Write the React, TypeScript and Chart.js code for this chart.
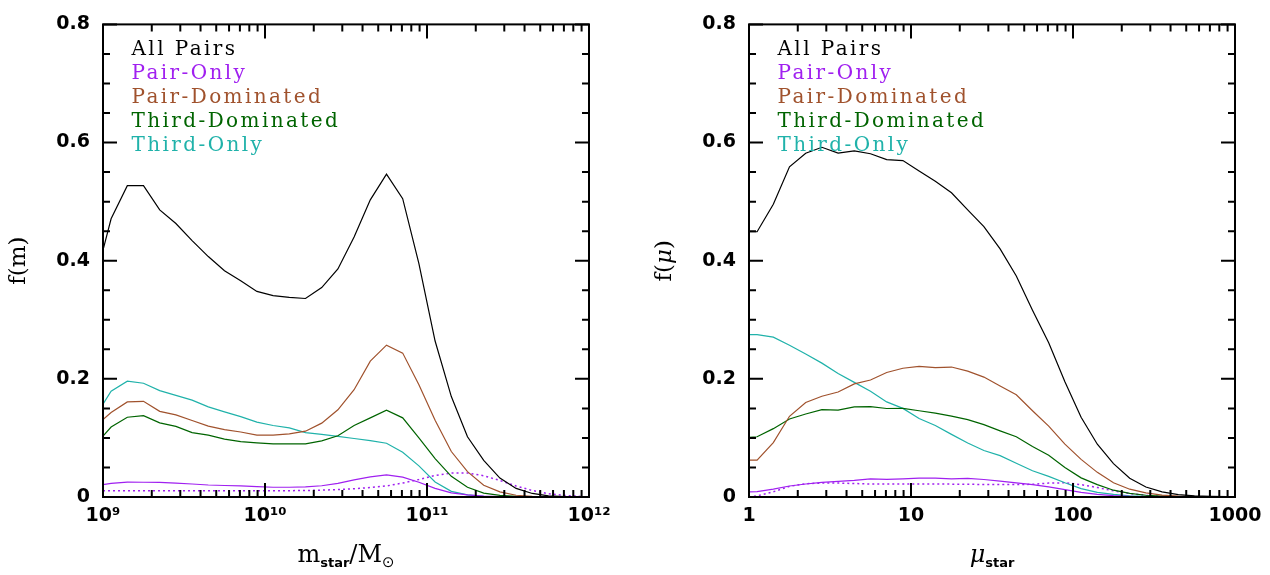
import React, { useEffect, useRef } from 'react';
import { Chart, registerables } from 'chart.js';
Chart.register(...registerables);

// ---------- data: left panel (stellar mass) ----------
const massX = [1e9, 1.122e9, 1.413e9, 1.778e9, 2.239e9, 2.818e9, 3.548e9, 4.467e9, 5.623e9, 7.079e9, 8.913e9,
  1.122e10, 1.413e10, 1.778e10, 2.239e10, 2.818e10, 3.548e10, 4.467e10, 5.623e10, 7.079e10, 8.913e10,
  1.122e11, 1.413e11, 1.778e11, 2.239e11, 2.818e11, 3.548e11, 4.467e11, 5.623e11, 7.079e11, 8.913e11];
const massAllPairs = [0.418, 0.471, 0.527, 0.527, 0.486, 0.463, 0.434, 0.407, 0.383, 0.366, 0.348,
  0.341, 0.338, 0.336, 0.3545, 0.386, 0.44, 0.503, 0.5465, 0.505, 0.395,
  0.264, 0.17, 0.102, 0.062, 0.032, 0.0145, 0.006, 0.002, 0.0005, 0];
const massPairOnly = [0.0209, 0.023, 0.0252, 0.025, 0.0247, 0.0236, 0.022, 0.0203, 0.0195, 0.0187, 0.0175,
  0.0165, 0.0165, 0.017, 0.019, 0.023, 0.029, 0.034, 0.0375, 0.0335, 0.025,
  0.0145, 0.007, 0.0035, 0.0015, 0.0005, 0, 0, 0, 0, 0];
const massPairDom = [0.131, 0.143, 0.161, 0.162, 0.145, 0.139, 0.1295, 0.12, 0.114, 0.11, 0.1048,
  0.1048, 0.107, 0.1114, 0.125, 0.1476, 0.1816, 0.23, 0.257, 0.2436, 0.19,
  0.13, 0.077, 0.043, 0.02, 0.0088, 0.003, 0.001, 0, 0, 0];
const massThirdDom = [0.103, 0.1185, 0.135, 0.1377, 0.1256, 0.1196, 0.109, 0.1048, 0.098, 0.0938, 0.0916,
  0.09, 0.09, 0.09, 0.095, 0.1037, 0.121, 0.134, 0.147, 0.134, 0.1,
  0.065, 0.035, 0.0165, 0.0066, 0.0027, 0.001, 0, 0, 0, 0];
const massThirdOnly = [0.157, 0.179, 0.196, 0.1926, 0.18, 0.172, 0.164, 0.1525, 0.144, 0.136, 0.1267,
  0.121, 0.117, 0.109, 0.106, 0.1026, 0.099, 0.0955, 0.091, 0.0757, 0.0527,
  0.0255, 0.0095, 0.0035, 0.001, 0, 0, 0, 0, 0, 0];
const massPairOnlyDotted = [0.0104, 0.0105, 0.0106, 0.0107, 0.0107, 0.0106, 0.0105, 0.0104, 0.0104, 0.0104, 0.0104,
  0.0105, 0.0107, 0.011, 0.0116, 0.0126, 0.014, 0.016, 0.0187, 0.0236, 0.0296,
  0.0365, 0.0405, 0.0405, 0.036, 0.028, 0.0187, 0.011, 0.0055, 0.0027, 0.001];

// ---------- data: right panel (mu) ----------
const muX = [1, 1.122, 1.413, 1.778, 2.239, 2.818, 3.548, 4.467, 5.623, 7.079, 8.913,
  11.22, 14.13, 17.78, 22.39, 28.18, 35.48, 44.67, 56.23, 70.79, 89.13,
  112.2, 141.3, 177.8, 223.9, 281.8, 354.8, 446.7, 562.3, 707.9, 891.3];
const muAllPairs = [0.449, 0.449, 0.4955, 0.559, 0.582, 0.592, 0.582, 0.586, 0.581, 0.571, 0.5695,
  0.552, 0.5345, 0.515, 0.486, 0.4576, 0.42, 0.374, 0.316, 0.261, 0.195,
  0.135, 0.0894, 0.0565, 0.0318, 0.017, 0.0088, 0.004, 0.002, 0.001, 0.0005];
const muPairOnly = [0.0088, 0.009, 0.0132, 0.0186, 0.022, 0.0247, 0.0263, 0.028, 0.0307, 0.03, 0.0307,
  0.0318, 0.0318, 0.0307, 0.0315, 0.0296, 0.027, 0.024, 0.021, 0.017, 0.0126,
  0.0077, 0.0044, 0.0022, 0.001, 0, 0, 0, 0, 0, 0];
const muPairDom = [0.0625, 0.0625, 0.092, 0.1366, 0.16, 0.1706, 0.1778, 0.1915, 0.198, 0.2107, 0.218,
  0.221, 0.219, 0.22, 0.213, 0.203, 0.188, 0.173, 0.146, 0.12, 0.0894,
  0.0637, 0.0417, 0.0242, 0.0132, 0.007, 0.0033, 0.0015, 0.0005, 0, 0];
const muThirdDom = [0.101, 0.102, 0.1157, 0.132, 0.1405, 0.148, 0.147, 0.1525, 0.153, 0.1498, 0.15,
  0.146, 0.142, 0.137, 0.131, 0.1225, 0.112, 0.102, 0.0856, 0.0708, 0.05,
  0.0324, 0.0209, 0.0115, 0.006, 0.003, 0.0016, 0.0005, 0, 0, 0];
const muThirdOnly = [0.275, 0.275, 0.2705, 0.257, 0.242, 0.2266, 0.209, 0.194, 0.179, 0.161, 0.15,
  0.133, 0.121, 0.106, 0.0915, 0.0788, 0.07, 0.057, 0.0444, 0.035, 0.0242,
  0.0143, 0.0077, 0.0044, 0.002, 0.001, 0, 0, 0, 0, 0];
const muPairOnlyDotted = [0, 0.002, 0.0088, 0.018, 0.0225, 0.0236, 0.0236, 0.0228, 0.022, 0.022, 0.022,
  0.022, 0.022, 0.0218, 0.0215, 0.0212, 0.021, 0.021, 0.0215, 0.0235, 0.024,
  0.021, 0.016, 0.0104, 0.006, 0.0027, 0.001, 0, 0, 0, 0];

// ---------- ticks / labels ----------
const seriesLabels = ['All Pairs', 'Pair-Only', 'Pair-Dominated', 'Third-Dominated', 'Third-Only'];
const seriesColors = ['#000000', '#A020F0', '#A0522D', '#006400', '#20B2AA'];
const yMajorTicks = [0, 0.2, 0.4, 0.6, 0.8];
const yMinorTicks = [0.05, 0.1, 0.15, 0.25, 0.3, 0.35, 0.45, 0.5, 0.55, 0.65, 0.7, 0.75];
const minorMultipliers = [2, 3, 4, 5, 6, 7, 8, 9];
const massDecades = [1e9, 1e10, 1e11, 1e12];
const massDecadeLabels = ['10\u2079', '10\u00B9\u2070', '10\u00B9\u00B9', '10\u00B9\u00B2'];
const muDecades = [1, 10, 100, 1000];
const muDecadeLabels = ['1', '10', '100', '1000'];

type Seg = { t: string; f: string; dy?: number };

function drawSegs(ctx: CanvasRenderingContext2D, segs: Seg[], cx: number, cy: number) {
  let total = 0;
  const widths = segs.map((s) => { ctx.font = s.f; const w = ctx.measureText(s.t).width; total += w; return w; });
  let x = cx - total / 2;
  segs.forEach((s, i) => { ctx.font = s.f; ctx.fillText(s.t, x, cy + (s.dy || 0)); x += widths[i]; });
}

const decorPlugin = {
  id: 'decor',
  afterDatasetsDraw(chart: any, _args: any, opts: any) {
    const { ctx, chartArea: a, scales } = chart;
    const xs = scales.x, ys = scales.y;
    ctx.save();
    ctx.strokeStyle = '#000';
    ctx.lineWidth = 2;
    ctx.lineCap = 'butt';
    ctx.beginPath();
    const seg = (x1: number, y1: number, x2: number, y2: number) => { ctx.moveTo(x1, y1); ctx.lineTo(x2, y2); };
    const xMinor: number[] = [];
    opts.decades.slice(0, -1).forEach((d: number) => minorMultipliers.forEach((m) => xMinor.push(d * m)));
    opts.decades.forEach((v: number) => { const p = xs.getPixelForValue(v); seg(p, a.bottom, p, a.bottom - 14); seg(p, a.top, p, a.top + 14); });
    xMinor.forEach((v) => { const p = xs.getPixelForValue(v); seg(p, a.bottom, p, a.bottom - 7); seg(p, a.top, p, a.top + 7); });
    yMajorTicks.forEach((v) => { const p = ys.getPixelForValue(v); seg(a.left, p, a.left + 14, p); seg(a.right, p, a.right - 14, p); });
    yMinorTicks.forEach((v) => { const p = ys.getPixelForValue(v); seg(a.left, p, a.left + 7, p); seg(a.right, p, a.right - 7, p); });
    ctx.stroke();
    ctx.strokeRect(a.left, a.top, a.right - a.left, a.bottom - a.top);

    // legend
    ctx.textAlign = 'left';
    ctx.textBaseline = 'alphabetic';
    ctx.font = '20px "DejaVu Serif"';
    (ctx as any).letterSpacing = '2.4px';
    seriesLabels.forEach((lab, i) => {
      ctx.fillStyle = seriesColors[i];
      ctx.fillText(lab, a.left + 28.5, a.top + 30.7 + i * 24);
    });
    (ctx as any).letterSpacing = '0px';

    // axis titles
    ctx.fillStyle = '#000';
    drawSegs(ctx, opts.xTitle, (a.left + a.right) / 2, a.bottom + 65);
    ctx.save();
    ctx.translate(a.left - 78, (a.top + a.bottom) / 2);
    ctx.rotate(-Math.PI / 2);
    drawSegs(ctx, opts.yTitle, 0, 0);
    ctx.restore();
    ctx.restore();
  },
};

function makeConfig(xv: number[], series: number[][], dotted: number[], decades: number[], decadeLabels: string[],
  yWidth: number, padRight: number, xTitle: Seg[], yTitle: Seg[]): any {
  const datasets: any[] = series.map((s, i) => ({
    label: seriesLabels[i],
    data: xv.map((x, j) => ({ x, y: s[j] })),
    borderColor: seriesColors[i],
    borderWidth: 1.2,
    pointRadius: 0,
    tension: 0,
    fill: false,
  }));
  datasets.push({
    label: 'Pair-Only (dotted)',
    data: xv.map((x, j) => ({ x, y: dotted[j] })),
    borderColor: seriesColors[1],
    borderWidth: 1.5,
    borderDash: [2, 3],
    pointRadius: 0,
    tension: 0,
    fill: false,
  });
  return {
    type: 'line',
    data: { datasets },
    options: {
      animation: false,
      responsive: false,
      devicePixelRatio: 1,
      layout: { padding: { left: 0, right: padRight, top: 11, bottom: 0 } },
      plugins: {
        legend: { display: false },
        tooltip: { enabled: false },
        decor: { decades, xTitle, yTitle },
      },
      scales: {
        x: {
          type: 'logarithmic',
          min: decades[0],
          max: decades[decades.length - 1],
          grid: { display: false, drawTicks: false },
          border: { display: false },
          afterBuildTicks: (scale: any) => { scale.ticks = decades.map((v) => ({ value: v })); },
          afterFit: (scale: any) => { scale.height = 78; },
          ticks: {
            autoSkip: false,
            maxRotation: 0,
            padding: 8,
            color: '#000',
            font: { family: 'DejaVu Sans', weight: 'bold', size: 19 },
            callback: (v: any) => { const i = decades.indexOf(Number(v)); return i >= 0 ? decadeLabels[i] : ''; },
          },
        },
        y: {
          type: 'linear',
          min: 0,
          max: 0.8,
          grid: { display: false, drawTicks: false },
          border: { display: false },
          afterBuildTicks: (scale: any) => { scale.ticks = yMajorTicks.map((v) => ({ value: v })); },
          afterFit: (scale: any) => { scale.width = yWidth; },
          ticks: {
            padding: 13,
            color: '#000',
            font: { family: 'DejaVu Sans', weight: 'bold', size: 19 },
            callback: (v: any) => (Number(v) === 0 ? '0' : Number(v).toFixed(1)),
          },
        },
      },
    },
    plugins: [decorPlugin],
  };
}

const serif = '"DejaVu Serif"';

export default function App() {
  const leftRef = useRef<HTMLCanvasElement>(null);
  const rightRef = useRef<HTMLCanvasElement>(null);

  useEffect(() => {
    const c1 = new Chart(leftRef.current as HTMLCanvasElement, makeConfig(
      massX,
      [massAllPairs, massPairOnly, massPairDom, massThirdDom, massThirdOnly],
      massPairOnlyDotted, massDecades, massDecadeLabels, 103, 51,
      [
        { t: 'm', f: `24px ${serif}` },
        { t: 'star', f: 'bold 13px "DejaVu Sans"', dy: 5 },
        { t: '/M', f: `24px ${serif}` },
        { t: '\u2299', f: '15px "DejaVu Sans"', dy: 5 },
      ],
      [{ t: 'f(m)', f: `23px ${serif}` }],
    ));
    const c2 = new Chart(rightRef.current as HTMLCanvasElement, makeConfig(
      muX,
      [muAllPairs, muPairOnly, muPairDom, muThirdDom, muThirdOnly],
      muPairOnlyDotted, muDecades, muDecadeLabels, 109, 35,
      [
        { t: '\u03BC', f: `italic 24px ${serif}` },
        { t: 'star', f: 'bold 13px "DejaVu Sans"', dy: 5 },
      ],
      [
        { t: 'f(', f: `23px ${serif}` },
        { t: '\u03BC', f: `italic 23px ${serif}` },
        { t: ')', f: `23px ${serif}` },
      ],
    ));
    return () => { c1.destroy(); c2.destroy(); };
  }, []);

  return (
    <div style={{ position: 'absolute', left: 0, top: 0, width: 1270, height: 575, background: '#fff' }}>
      <canvas ref={leftRef} width={640} height={575} style={{ position: 'absolute', left: 0, top: 0, width: 640, height: 575 }} />
      <canvas ref={rightRef} width={630} height={575} style={{ position: 'absolute', left: 640, top: 0, width: 630, height: 575 }} />
    </div>
  );
}
